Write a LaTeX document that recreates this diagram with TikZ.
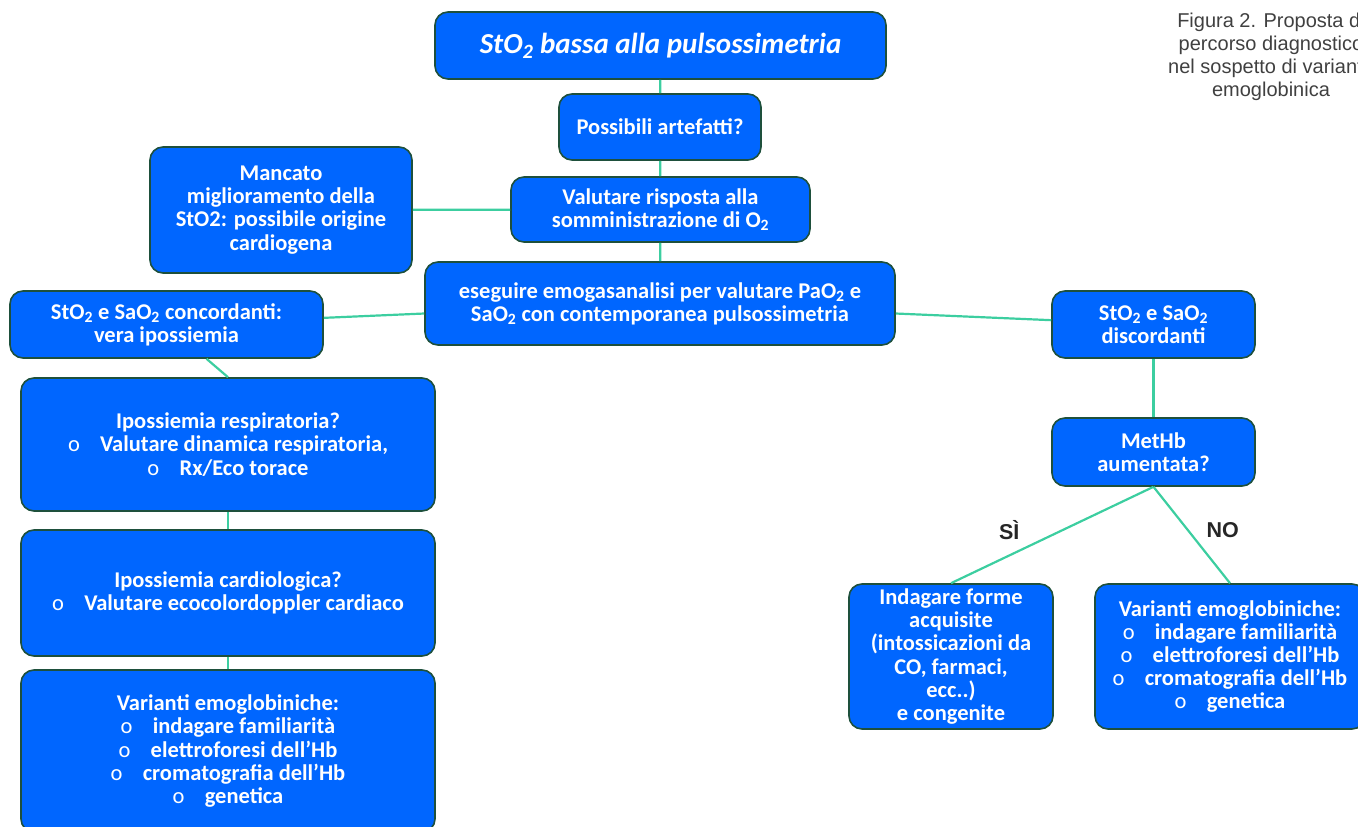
\documentclass[tikz,border=0pt]{standalone}
\usepackage{fontspec}
\setmainfont{Carlito}
\newfontfamily\capfont{Liberation Sans}
\usetikzlibrary{positioning}
\definecolor{boxblue}{RGB}{0,102,255}
\definecolor{boxrim}{RGB}{30,80,60}
\definecolor{linkgreen}{RGB}{60,206,160}
\newcommand\bul{{\mdseries o}\hspace{0.9em}}

\begin{document}
\begin{tikzpicture}[x=1pt, y=-1pt,
    step box/.style = {shape = rectangle, rounded corners = 13pt, draw = boxrim, fill = boxblue, line width = 1.6pt, text = white, align = center, inner sep = 0pt, font = \fontsize{22.5}{23.2}\selectfont\bfseries},
    title box/.style = {step box, font = \fontsize{29}{32}\selectfont\bfseries\itshape},
    link/.style = {draw = linkgreen, line width = 2.2pt},
    lbl/.style = {font = \capfont\fontsize{21.5}{24}\selectfont\bfseries, text = black!85, yshift = 5pt},
    ]
    \useasboundingbox (0,0) rectangle (1358,827);
    \clip (0,0) rectangle (1358,827);

    \node[title box, minimum width = 451pt, minimum height = 67pt] (T) at (660.5, 45.5) {StO\textsubscript{2} bassa alla pulsossimetria};
    \node[step box, minimum width = 202pt, minimum height = 66pt] (A) at (660, 127) {Possibili artefatti?};
    \node[step box, minimum width = 299pt, minimum height = 65pt] (V) at (660.5, 209.5) {Valutare risposta alla\\somministrazione di O\textsubscript{2}};
    \node[step box, minimum width = 262pt, minimum height = 126pt] (M) at (281, 210) {Mancato\\miglioramento della\\StO2: possibile origine\\cardiogena};
    \node[step box, minimum width = 470pt, minimum height = 83pt] (E) at (660, 303.5) {eseguire emogasanalisi per valutare PaO\textsubscript{2} e\\SaO\textsubscript{2} con contemporanea pulsossimetria};

    \node[step box, minimum width = 313pt, minimum height = 67pt] (C) at (166.5, 324.5) {StO\textsubscript{2} e SaO\textsubscript{2} concordanti:\\vera ipossiemia};
    \node[step box, minimum width = 414pt, minimum height = 133pt] (R) at (228, 444.5) {Ipossiemia respiratoria?\\\bul Valutare dinamica respiratoria,\\\bul Rx/Eco torace};
    \node[step box, minimum width = 414pt, minimum height = 126pt] (K) at (228, 593) {Ipossiemia cardiologica?\\\bul Valutare ecocolordoppler cardiaco};
    \node[step box, minimum width = 414pt, minimum height = 162pt] (VL) at (228, 751) {Varianti emoglobiniche:\\\bul indagare familiarità\\\bul elettroforesi dell’Hb\\\bul cromatografia dell’Hb\\\bul genetica};

    \node[step box, minimum width = 203pt, minimum height = 67pt] (D) at (1153.5, 324.5) {StO\textsubscript{2} e SaO\textsubscript{2}\\discordanti};
    \node[step box, minimum width = 203pt, minimum height = 68pt] (H) at (1153.5, 452) {MetHb\\aumentata?};
    \node[step box, minimum width = 204pt, minimum height = 145pt] (I) at (951, 656.5) {Indagare forme\\acquisite\\(intossicazioni da\\CO, farmaci,\\ecc..)\\e congenite};
    \node[step box, minimum width = 270pt, minimum height = 145pt] (VR) at (1230, 656.5) {Varianti emoglobiniche:\\\bul indagare familiarità\\\bul elettroforesi dell’Hb\\\bul cromatografia dell’Hb\\\bul genetica};

    % caption, cut at the right edge as in the source
    \node[font = \capfont\fontsize{20}{22.8}\selectfont, text = black!75, align = center, anchor = north, inner sep = 0pt] (F) at (1271, 13) {Figura 2. Proposta di\\percorso diagnostico\\nel sospetto di variante\\emoglobinica};

    \draw[link] (T) -- (A);
    \draw[link] (A) -- (V);
    \draw[link] (M) -- (V);
    \draw[link] (V) -- (E);
    \draw[link] (E) -- (C);
    \draw[link] (E) -- (D);
    \draw[link] ([xshift = 40pt]C.south) -- (R.north);
    \draw[link] (R) -- (K);
    \draw[link] (K) -- (VL);
    \draw[link] (D) -- (H);
    \draw[link] (H.south) -- node[lbl, xshift = -43pt] {SÌ} (I.north);
    \draw[link] (H.south) -- node[lbl, xshift = 31pt] {NO} (VR.north);
\end{tikzpicture}
\end{document}
